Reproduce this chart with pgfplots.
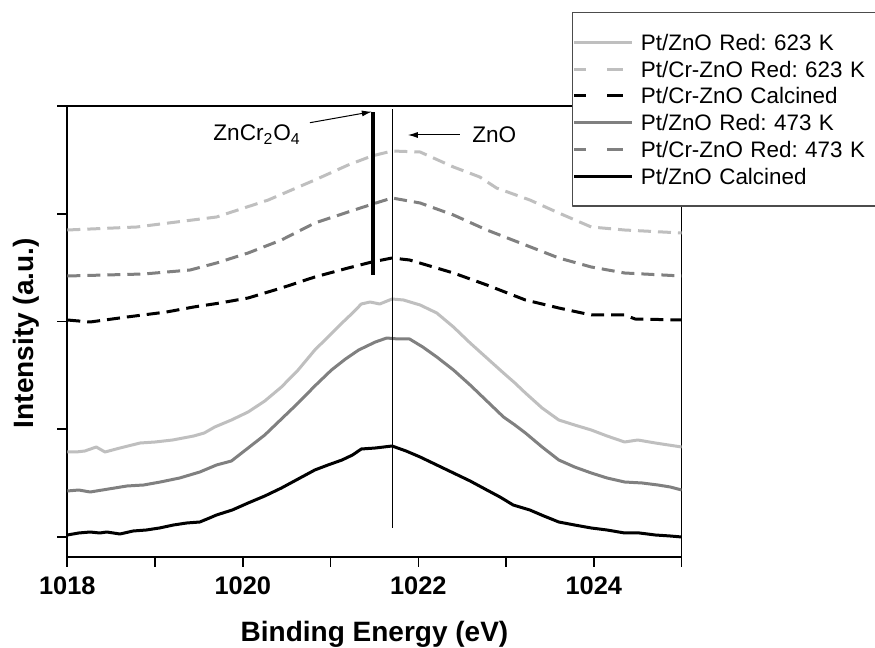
\documentclass[border=0pt]{standalone}
\usepackage{fontspec}
\setmainfont{Liberation Sans}
\usepackage{pgfplots}
\pgfplotsset{compat=1.18}
\usetikzlibrary{arrows.meta}
\definecolor{lightgr}{gray}{0.75}
\definecolor{midgr}{gray}{0.5}

\begin{document}
\frenchspacing
\begin{tikzpicture}
\begin{axis}[
  scale only axis,
  width=307.2pt, height=225.5pt,
  xmin=1018, xmax=1025,
  ymin=-20, ymax=431,
  xtick={1018,1019,...,1025},
  xticklabels={1018,,1020,,1022,,1024,},
  ytick={0,107.75,215.5,323.25,431},
  yticklabels={,,,,},
  xtick pos=bottom, ytick pos=left,
  tick align=outside,
  major tick length=5pt,
  every tick/.style={black, line width=0.8pt},
  axis line style={line width=0.8pt},
  tick label style={font=\fontsize{12.7}{14}\bfseries},
  every x tick label/.append style={yshift=-1.5pt},
  every axis x label/.style={at={(axis description cs:0.5,0)}, anchor=base, yshift=-42.35pt},
  every axis y label/.style={at={([xshift=-17.15pt]axis description cs:0,0.4961)}, rotate=90, anchor=base},
  label style={font=\fontsize{14}{16}\bfseries},
  xlabel={Binding Energy (eV)},
  ylabel={Intensity (a.u.)},
  legend image code/.code={\draw[#1] (0pt,0pt) -- (29pt,0pt);},
  legend cell align=left,
  legend style={at={(axis description cs:0.8214,1.2084)}, anchor=north west,
    draw=black!70, line width=0.6pt, fill=white,
    inner xsep=0pt, inner ysep=8.3pt, row sep=0pt, column sep=3.7pt,
    nodes={inner sep=0pt, text height=10.675pt, text depth=2.675pt, text width=117.8pt,
      font=\fontsize{11.2}{13}\selectfont}},
  line join=round,
]
\addlegendimage{lightgr, line width=1.5pt}
\addlegendentry{Pt/ZnO Red: 623 K}
\addlegendimage{lightgr, line width=1.5pt, dash pattern=on 6pt off 10.7pt on 8pt off 10pt}
\addlegendentry{Pt/Cr-ZnO Red: 623 K}
\addlegendimage{black, line width=1.5pt, dash pattern=on 6pt off 10.7pt on 8pt off 10pt}
\addlegendentry{Pt/Cr-ZnO Calcined}
\addlegendimage{midgr, line width=1.5pt}
\addlegendentry{Pt/ZnO Red: 473 K}
\addlegendimage{midgr, line width=1.5pt, dash pattern=on 6pt off 10.7pt on 8pt off 10pt}
\addlegendentry{Pt/Cr-ZnO Red: 473 K}
\addlegendimage{black, line width=1.5pt}
\addlegendentry{Pt/ZnO Calcined}

% Pt/ZnO Calcined
\addplot[black, line width=1.5pt, forget plot] coordinates {
 (1018.00,2) (1018.13,4) (1018.26,5) (1018.37,4) (1018.45,5) (1018.60,3) (1018.75,6)
 (1018.90,7) (1019.05,9) (1019.21,12) (1019.36,14) (1019.51,15) (1019.62,19) (1019.70,22)
 (1019.88,27) (1020.06,34) (1020.25,41) (1020.44,49) (1020.63,58) (1020.82,67) (1020.97,72)
 (1021.13,77) (1021.25,82) (1021.35,88) (1021.51,89) (1021.70,91) (1021.86,86) (1022.02,80)
 (1022.21,72) (1022.40,64) (1022.59,56) (1022.78,47) (1022.93,40) (1023.08,32) (1023.27,27)
 (1023.43,21) (1023.60,15) (1023.78,12) (1023.97,9) (1024.15,7) (1024.35,4) (1024.52,4)
 (1024.70,2) (1024.87,1) (1025.00,0)
};
% Pt/ZnO Red: 473 K
\addplot[midgr, line width=1.5pt, forget plot] coordinates {
 (1018.00,46) (1018.13,47) (1018.26,45) (1018.47,48) (1018.68,51) (1018.87,52) (1019.06,55)
 (1019.28,59) (1019.51,65) (1019.70,72) (1019.87,76) (1020.06,89) (1020.25,102) (1020.44,118)
 (1020.63,134) (1020.82,151) (1021.01,167) (1021.17,178) (1021.32,187) (1021.51,195)
 (1021.64,199) (1021.77,198) (1021.90,198) (1022.05,190) (1022.21,180) (1022.40,167)
 (1022.59,152) (1022.78,136) (1022.97,120) (1023.10,112) (1023.22,104) (1023.41,90)
 (1023.60,77) (1023.78,70) (1023.97,64) (1024.15,59) (1024.35,55) (1024.55,54) (1024.73,52)
 (1024.87,50) (1025.00,47)
};
% Pt/ZnO Red: 623 K
\addplot[lightgr, line width=1.5pt, forget plot] coordinates {
 (1018.00,85) (1018.10,85) (1018.20,86) (1018.33,90) (1018.43,85) (1018.60,89) (1018.83,94)
 (1019.00,95) (1019.20,97) (1019.44,101) (1019.56,104) (1019.68,110) (1019.87,117)
 (1020.06,125) (1020.25,136) (1020.44,150) (1020.63,167) (1020.82,187) (1020.97,200)
 (1021.13,214) (1021.25,224) (1021.35,233) (1021.45,235) (1021.56,233) (1021.70,238)
 (1021.83,237) (1022.02,232) (1022.21,224) (1022.40,210) (1022.59,194) (1022.78,179)
 (1022.97,164) (1023.10,154) (1023.22,144) (1023.41,129) (1023.60,117) (1023.78,112)
 (1023.97,107) (1024.15,101) (1024.35,95) (1024.50,97) (1024.70,94) (1024.85,92) (1025.00,90)
};
% Pt/Cr-ZnO Calcined
\addplot[black, line width=1.5pt, dash pattern=on 6.5pt off 3.5pt, forget plot] coordinates {
 (1018.00,217) (1018.26,215) (1018.68,220) (1019.13,225) (1019.44,230) (1019.74,234)
 (1020.06,239) (1020.44,249) (1020.82,260) (1021.20,269) (1021.47,275) (1021.70,279)
 (1021.90,277) (1022.40,264) (1022.78,252) (1023.22,237) (1023.60,229) (1023.97,222)
 (1024.35,222) (1024.47,218) (1025.00,217)
};
% Pt/Cr-ZnO Red: 473 K
\addplot[midgr, line width=1.5pt, dash pattern=on 6.5pt off 3.5pt, forget plot] coordinates {
 (1018.00,261) (1018.87,263) (1019.40,267) (1019.70,274) (1020.06,284) (1020.44,297)
 (1020.82,314) (1021.20,325) (1021.48,333) (1021.70,339) (1022.02,334) (1022.40,322)
 (1022.78,307) (1023.22,292) (1023.60,279) (1023.97,270) (1024.35,264) (1025.00,261)
};
% Pt/Cr-ZnO Red: 623 K
\addplot[lightgr, line width=1.5pt, dash pattern=on 6.5pt off 3.5pt, forget plot] coordinates {
 (1018.00,307) (1018.79,310) (1019.70,320) (1020.29,337) (1020.82,357) (1021.20,372)
 (1021.47,381) (1021.70,386) (1022.02,385) (1022.40,370) (1022.70,360) (1022.89,349)
 (1023.27,337) (1023.60,324) (1023.97,310) (1024.35,307) (1025.00,304)
};
% reference lines
\addplot[black, line width=0.5pt, forget plot] coordinates {(1021.70,9) (1021.70,428)};
\addplot[black, line width=2pt, forget plot] coordinates {(1021.48,262) (1021.48,425.3)};

\draw[-{Latex[length=5pt,width=3pt]}, line width=0.5pt] (axis cs:1020.765,414.3) -- (axis cs:1021.47,425.3);
\draw[-{Latex[length=5pt,width=3pt]}, line width=0.5pt] (axis cs:1022.47,402) -- (axis cs:1021.88,402);
\node[anchor=west, inner sep=0pt, font=\fontsize{11.3}{13}\selectfont] at (axis cs:1022.61,402) {ZnO};
\node[anchor=base west, inner sep=0pt, font=\fontsize{11.3}{13}\selectfont] at (axis cs:1019.66,396.3) {ZnCr\textsubscript{2}O\textsubscript{4}};
\end{axis}
\pgfresetboundingbox
\path[use as bounding box] (-33.65pt,-45.5pt) rectangle (403.85pt,278.5pt);
\end{tikzpicture}
\end{document}
